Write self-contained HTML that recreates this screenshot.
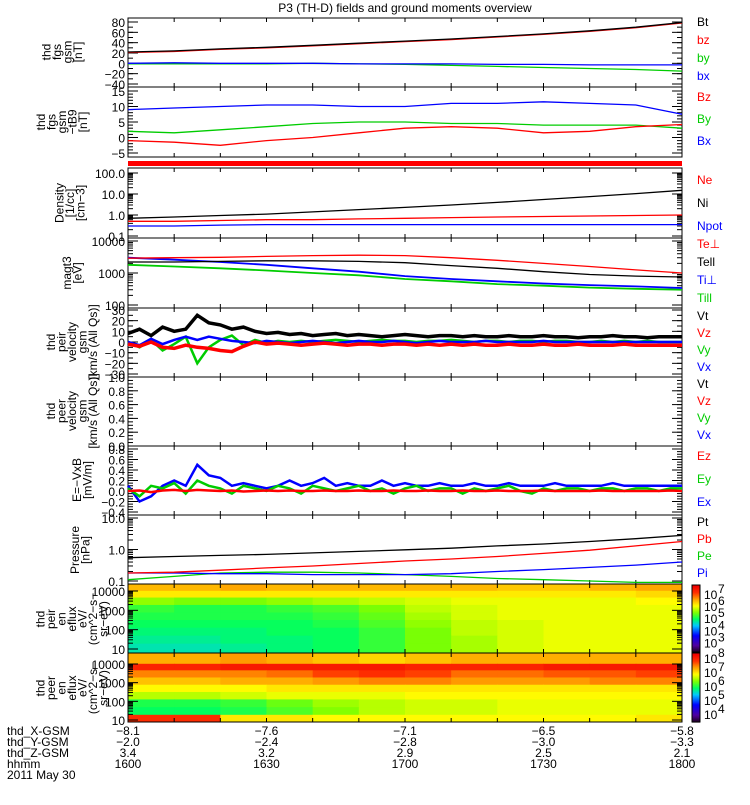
<!DOCTYPE html>
<html><head><meta charset="utf-8"><style>
body{margin:0;background:#fff}
svg{font-family:"Liberation Sans",sans-serif;}
text{font-size:12px}
</style></head><body>
<svg id="c" width="750" height="800" xmlns="http://www.w3.org/2000/svg"></svg>
<script>
// ---------- data ----------
const timeTicks=["1600","1630","1700","1730","1800"];
const xGsm=["-8.1","-7.6","-7.1","-6.5","-5.8"];
const yGsm=["-2.0","-2.4","-2.8","-3.0","-3.3"];
const zGsm=["3.4","3.2","2.9","2.5","2.1"];
const tCoarse=[0,10,20,30,40,50,60,70,80,90,100,110,120];
const bt=[22,24,28,31,35,39,43,47,52,57,63,70,79];
const bz=[21,23,27,30,34,38,42,46,51,56,62,69,78];
const by=[-1,-1,-1,-1,0,-1,-2,-4,-6,-8,-10,-12,-15];
const bx=[0,1,0,0,0,-1,-1,-1,-2,-2,-3,-3,-3];
const bzD=[-1,-1.5,-2.5,-1,0,1.5,3,3.5,3,1.5,2,3.5,4.2];
const byD=[2,1.5,2.5,3.5,4.5,5,5,4.5,4.5,4,4,4,3];
const bxD=[9,9.5,10,10.5,10.5,10,10,11,11,11.5,11,10.5,7.5];
const ne=[0.7,0.8,0.95,1.1,1.4,1.8,2.3,3.0,4.0,5.5,7.5,10.5,15];
const ni=[0.5,0.5,0.55,0.6,0.6,0.65,0.7,0.75,0.8,0.85,0.9,0.95,1.0];
const npot=[0.3,0.3,0.33,0.35,0.35,0.35,0.35,0.35,0.35,0.35,0.35,0.35,0.35];
const tePerp=[2900,3000,3100,3300,3500,3600,3500,3000,2500,2000,1600,1250,1000];
const tePar=[2200,2200,2300,2400,2400,2300,2100,1700,1400,1100,900,800,750];
const tiPerp=[3000,2600,2200,1800,1400,1100,800,650,550,470,420,380,340];
const tiPar=[1800,1600,1400,1200,1000,850,650,550,450,400,350,320,300];
const tFine=[];for(let i=0;i<=48;i++)tFine.push(i*2.5);
const vt=[8,12,6,14,10,12,25,18,16,12,14,10,8,9,7,8,6,7,8,6,7,6,5,6,7,6,5,6,6,5,6,5,5,6,5,5,6,5,5,4,5,5,6,5,5,4,5,5,5];
const vz=[-2,-4,0,-5,-6,-3,-5,-6,-8,-9,-4,0,-2,-1,-2,-3,-2,-1,-2,-3,-2,-2,-3,-2,-2,-3,-2,-3,-2,-3,-2,-3,-3,-2,-3,-3,-2,-3,-3,-2,-3,-3,-3,-2,-3,-3,-3,-3,-3];
const vy=[0,-5,2,-8,-2,5,-20,-5,2,6,-3,2,-1,1,0,1,0,1,2,1,0,1,2,1,1,0,1,1,2,1,0,1,1,0,1,1,0,1,1,0,0,1,0,1,0,1,0,0,0];
const vx=[0,-3,3,-2,2,5,2,5,3,1,0,-1,1,0,-1,0,1,0,-1,0,1,0,0,1,0,-1,0,1,0,0,0,1,0,0,0,0,1,0,0,0,0,0,0,0,0,0,0,0,0];
const ez=[0,0.01,-0.02,0.01,0.02,0,0.02,0.01,0,0.01,-0.01,0,0.01,0,0.01,0,0,0.01,0,0,0.01,0,0,0.01,0,0,0.01,0,0,0.01,0,0,0.01,0,0,0,0.01,0,0,0,0,0.01,0,0,0,0,0,0.01,0];
const ey=[0.05,-0.1,0.1,0.05,0.15,-0.05,0.2,0.1,0.05,-0.05,0.1,0.05,0,0.1,0.05,-0.05,0.1,0.05,0,0.05,0.1,0,0.05,-0.05,0.05,0.1,0,0.05,0.05,-0.05,0.05,0,0.05,0.1,0,-0.05,0.05,0,0.05,0.05,0,0.05,0.05,0,0.05,0.05,0,0.05,0.05];
const ex=[0.1,-0.2,-0.1,0.1,0.2,0.1,0.5,0.3,0.25,0.1,0.15,0.1,0.05,0.1,0.2,0.1,0.15,0.25,0.1,0.15,0.1,0.1,0.2,0.1,0.15,0.1,0.1,0.15,0.1,0.1,0.15,0.1,0.1,0.15,0.1,0.1,0.1,0.15,0.1,0.1,0.1,0.1,0.15,0.1,0.1,0.1,0.1,0.1,0.1];
const pt=[0.55,0.6,0.65,0.7,0.78,0.87,0.98,1.1,1.3,1.5,1.8,2.2,2.8];
const pb=[0.18,0.19,0.22,0.26,0.3,0.36,0.43,0.5,0.6,0.75,0.95,1.3,1.8];
const pe=[0.11,0.14,0.18,0.19,0.19,0.18,0.16,0.14,0.12,0.11,0.1,0.09,0.09];
const pi=[0.18,0.18,0.17,0.17,0.16,0.16,0.16,0.17,0.2,0.23,0.27,0.32,0.4];
const specT=[0,10,20,30,40,50,60,70,80,90,100,110];
const specE=[15000,7000,3000,1200,500,200,80,30,12];
const ionFlux=[
[6.5,6.5,6.6,6.5,6.5,6.5,6.5,6.5,6.4,6.4,6.5,6.6],
[6.2,6.2,6.2,6.2,6.2,6.2,6.2,6.2,6.2,6.2,6.2,6.3],
[5.6,5.5,5.5,5.6,5.7,5.8,5.9,6.0,6.0,6.0,6.0,6.1],
[5.2,5.1,5.1,5.2,5.3,5.5,5.8,5.9,6.0,6.0,6.0,6.0],
[5.1,5.1,5.1,5.1,5.2,5.4,5.7,5.9,6.0,6.0,6.0,6.0],
[5.0,5.0,5.0,5.0,5.1,5.3,5.6,5.8,5.9,6.0,6.0,6.0],
[4.9,4.9,4.9,5.0,5.0,5.2,5.5,5.8,5.9,6.0,6.0,6.0],
[4.8,4.8,4.9,4.9,5.0,5.2,5.5,5.7,5.9,6.0,6.0,6.0],
[4.7,4.7,4.8,4.9,5.0,5.2,5.5,5.7,5.9,6.0,6.0,6.0]];
const eleFlux=[
[7.3,7.3,7.4,7.3,7.2,7.1,7.2,7.3,7.3,7.3,7.3,7.3],
[8.0,8.0,8.1,8.1,8.1,8.1,8.0,8.0,8.0,8.1,8.1,8.1],
[7.5,7.5,7.5,7.6,7.8,7.9,7.8,7.6,7.6,7.7,7.7,7.8],
[7.2,7.2,7.3,7.3,7.4,7.5,7.5,7.4,7.4,7.4,7.5,7.5],
[6.9,6.9,6.9,7.0,7.0,7.0,7.0,7.0,7.0,7.0,7.0,7.0],
[6.6,6.6,6.7,6.8,6.8,6.8,6.9,6.9,6.9,6.9,6.9,6.9],
[6.0,6.0,6.1,6.3,6.5,6.6,6.7,6.7,6.8,6.8,6.8,6.8],
[5.9,5.9,6.0,6.2,6.4,6.6,6.7,6.7,6.8,6.8,6.8,6.8],
[7.9,7.9,7.0,7.0,6.9,6.9,6.9,6.9,6.9,6.9,6.9,7.0]];
// ---------- drawing ----------
const svg=document.getElementById('c');const NS='http://www.w3.org/2000/svg';
const X0=128,X1=682;
function xs(t){return X0+(X1-X0)*t/120;}
function el(tag,attrs,txt){const e=document.createElementNS(NS,tag);for(const k in attrs)e.setAttribute(k,attrs[k]);if(txt!==undefined)e.textContent=txt;svg.appendChild(e);return e;}
function linS(y0,y1,v0,v1){return v=>y0+(y1-y0)*(v-v0)/(v1-v0);}
function logS(y0,y1,v0,v1){return v=>y0+(y1-y0)*(Math.log10(v)-Math.log10(v0))/(Math.log10(v1)-Math.log10(v0));}
function series(ts,vals,ys,color,name,w){const d=vals.map((v,i)=>(i?'L':'M')+xs(ts[i]).toFixed(1)+' '+ys(v).toFixed(1)).join('');const p=el('path',{d:d,fill:'none',stroke:color,'stroke-width':w||1.3});}
function frame(top,bot,name){const r=el('rect',{x:X0,y:top,width:X1-X0,height:bot-top,fill:'none',stroke:'#000','stroke-width':1});
 for(let t=10;t<120;t+=10){el('line',{x1:xs(t),x2:xs(t),y1:top,y2:top+4,stroke:'#000'});el('line',{x1:xs(t),x2:xs(t),y1:bot,y2:bot-4,stroke:'#000'});}}
function ytick(y,lab,name){el('line',{x1:X0,x2:X0+10,y1:y,y2:y,stroke:'#000'});el('line',{x1:X1,x2:X1-10,y1:y,y2:y,stroke:'#000'});if(lab!==null){const t=el('text',{x:X0-3,y:y+5,'text-anchor':'end','font-size':13},lab);}}
function minor(y){el('line',{x1:X0,x2:X0+5,y1:y,y2:y,stroke:'#000'});el('line',{x1:X1,x2:X1-5,y1:y,y2:y,stroke:'#000'});}
function ylab(cx,cy,lines,name){const g=document.createElementNS(NS,'text');g.setAttribute('transform','translate('+cx+','+cy+') rotate(-90)');g.setAttribute('text-anchor','middle');g.setAttribute('font-size','12');
 lines.forEach((l,i)=>{const s=document.createElementNS(NS,'tspan');s.setAttribute('x',0);s.setAttribute('y',(i-(lines.length-1)/2)*10.5+4);s.textContent=l;g.appendChild(s);});
 svg.appendChild(g);}
function legend(items,y0,step,name){items.forEach((it,i)=>{const t=el('text',{x:697,y:y0+i*step,fill:it[1],'font-size':12},it[0]);});}
const title=el('text',{x:405,y:12,'text-anchor':'middle','font-size':13},'P3 (TH-D) fields and ground moments overview');


// Panel 1
let s=linS(22,84,80,-40);frame(18,87,'panel-fgm');
[80,60,40,20,0,-20,-40].forEach(v=>ytick(s(v),v==0?'0':String(v).replace('-','−'),'fgm-tick'));
for(let v=-40;v<=80;v+=10)minor(s(v));
series(tCoarse,by,s,'#0c0','by-line');series(tCoarse,bx,s,'#00f','bx-line');series(tCoarse,bz,s,'#f00','bz-line');series(tCoarse,bt,s,'#000','bt-line');
ylab(62,52,['thd','fgs','gsm','[nT]'],'fgm-y-title');
legend([['Bt','#000'],['bz','#f00'],['by','#0c0'],['bx','#00f']],26,18,'fgm-legend');
// Panel 2
s=linS(91,153,15,-5);frame(87,157,'panel-fgm-detrend');
[15,10,5,0,-5].forEach(v=>ytick(s(v),String(v).replace('-','−'),'dfgm-tick'));
for(let v=-5;v<=15;v++)minor(s(v));
series(tCoarse,bxD,s,'#00f','bx-detrend');series(tCoarse,byD,s,'#0c0','by-detrend');series(tCoarse,bzD,s,'#f00','bz-detrend');
ylab(62,122,['thd','fgs','gsm','−tB9','[nT]'],'dfgm-y-title');
legend([['Bz','#f00'],['By','#0c0'],['Bx','#00f']],101,22,'dfgm-legend');
el('rect',{x:X0,y:161,width:X1-X0,height:5,fill:'#f00'});
// Panel 3
s=logS(173,236,100,0.1);frame(168,238,'panel-density');
[[100,'100.0'],[10,'10.0'],[1,'1.0'],[0.1,'0.1']].forEach(a=>ytick(s(a[0]),a[1],'density-tick'));
for(let d=0.1;d<100;d*=10)for(let k=2;k<10;k++)minor(s(d*k));
series(tCoarse,npot,s,'#00f','npot-line');series(tCoarse,ni,s,'#f00','ni-line');series(tCoarse,ne,s,'#000','ne-line');
ylab(70,203,['Density','[1/cc]','[cm−3]'],'density-y-title');
legend([['Ne','#f00'],['Ni','#000'],['Npot','#00f']],184,23,'density-legend');
// Panel 4
s=logS(241,305,10000,100);frame(238,308,'panel-temperature');
[[10000,'10000'],[1000,'1000'],[100,'100']].forEach(a=>ytick(s(a[0]),a[1],'temp-tick'));
for(let d=100;d<10000;d*=10)for(let k=2;k<10;k++)minor(s(d*k));
series(tCoarse,tiPar,s,'#0c0','ti-par-line',1.8);series(tCoarse,tiPerp,s,'#00f','ti-perp-line',1.8);series(tCoarse,tePar,s,'#000','te-par-line');series(tCoarse,tePerp,s,'#f00','te-perp-line');
ylab(72,273,['magt3','[eV]'],'temp-y-title');
legend([['Te⊥','#f00'],['Tell','#000'],['Ti⊥','#00f'],['Till','#0c0']],248,18,'temp-legend');
// Panel 5
s=linS(310,374,30,-30);frame(308,377,'panel-ion-velocity');
[30,20,10,0,-10,-20,-30].forEach(v=>ytick(s(v),String(v).replace('-','−'),'vi-tick'));
for(let v=-30;v<=30;v+=5)minor(s(v));
series(tFine,vy,s,'#0c0','vy-line',2.5);series(tFine,vx,s,'#00f','vx-line',2.5);series(tFine,vt,s,'#000','vt-line',3.5);series(tFine,vz,s,'#f00','vz-line',3.5);
ylab(72,342,['thd','peir','velocity','gsm','[km/s (All Qs)]'],'vi-y-title');
legend([['Vt','#000'],['Vz','#f00'],['Vy','#0c0'],['Vx','#00f']],320,17,'vi-legend');
// Panel 6
s=linS(377,446,1,0);frame(377,446,'panel-electron-velocity');
[[1,'1.0'],[0.8,'0.8'],[0.6,'0.6'],[0.4,'0.4'],[0.2,'0.2'],[0,'0.0']].forEach(a=>ytick(s(a[0]),a[1],'ve-tick'));
for(let v=0;v<=1;v+=0.05)minor(s(v));
ylab(72,411,['thd','peer','velocity','gsm','[km/s (All Qs)]'],'ve-y-title');
legend([['Vt','#000'],['Vz','#f00'],['Vy','#0c0'],['Vx','#00f']],388,17,'ve-legend');
// Panel 7
s=linS(449,512,0.8,-0.4);frame(446,515,'panel-efield');
[0.8,0.6,0.4,0.2,0,-0.2,-0.4].forEach(v=>ytick(s(v),(v<0?'−':'')+Math.abs(v).toFixed(1),'ef-tick'));
for(let v=-0.4;v<=0.8;v+=0.05)minor(s(v));
series(tFine,ex,s,'#00f','ex-line',2.5);series(tFine,ey,s,'#0c0','ey-line',2.5);series(tFine,ez,s,'#f00','ez-line',2.5);
ylab(82,480,['E=−VxB','[mV/m]'],'ef-y-title');
legend([['Ez','#f00'],['Ey','#0c0'],['Ex','#00f']],460,23,'ef-legend');
// Panel 8
s=logS(518,581,10,0.1);frame(515,584,'panel-pressure');
[[10,'10.0'],[1,'1.0'],[0.1,'0.1']].forEach(a=>ytick(s(a[0]),a[1],'p-tick'));
for(let d=0.1;d<10;d*=10)for(let k=2;k<10;k++)minor(s(d*k));
series(tCoarse,pe,s,'#0c0','pe-line');series(tCoarse,pi,s,'#00f','pi-line');series(tCoarse,pb,s,'#f00','pb-line');series(tCoarse,pt,s,'#000','pt-line');
ylab(80,550,['Pressure','[nPa]'],'p-y-title');
legend([['Pt','#000'],['Pb','#f00'],['Pe','#0c0'],['Pi','#00f']],526,17,'p-legend');
// Spectrograms
const stops=[[0,[32,0,32]],[.1,[80,0,160]],[.25,[0,0,255]],[.4,[0,200,255]],[.5,[0,255,96]],[.6,[128,255,0]],[.7,[255,255,0]],[.8,[255,160,0]],[.9,[255,48,0]],[1,[240,0,0]]];
function cmap(f){f=Math.max(0,Math.min(1,f));for(let i=1;i<stops.length;i++){if(f<=stops[i][0]){const a=stops[i-1],b=stops[i],u=(f-a[0])/(b[0]-a[0]);return 'rgb('+a[1].map((c,j)=>Math.round(c+(b[1][j]-c)*u)).join(',')+')';}}return 'rgb(240,0,0)';}
function spec(top,bot,ys,flux,lo,hi,name){
 flux.forEach((row,r)=>{row.forEach((v,c)=>{
  const y0=r==0?top:(ys(specE[r-1])+ys(specE[r]))/2,y1=r==flux.length-1?bot:(ys(specE[r])+ys(specE[r+1]))/2;
  const x0=xs(specT[c]),x1=c==row.length-1?X1:xs(specT[c+1]);
  const cell=el('rect',{x:x0,y:y0,width:x1-x0+0.5,height:y1-y0+0.5,fill:cmap((v-lo)/(hi-lo))});
  });});
 frame(top,bot,name+'-frame');}
s=logS(591,649,10000,10);spec(584,653,s,ionFlux,2.2,7.75,'ion-spectrogram');
[[10000,'10000'],[1000,'1000'],[100,'100'],[10,'10']].forEach(a=>ytick(s(a[0]),a[1],'ion-e-tick'));
for(let d=10;d<10000;d*=10)for(let k=2;k<10;k++)minor(s(d*k));
ylab(72,619,['thd','peir','en','eflux','eV/','(cm^2−s−','sr−eV)'],'ion-spec-y-title');
s=logS(664,720,10000,10);spec(653,722,s,eleFlux,3.43,8.36,'electron-spectrogram');
[[10000,'10000'],[1000,'1000'],[100,'100'],[10,'10']].forEach(a=>ytick(s(a[0]),a[1],'ele-e-tick'));
for(let d=10;d<10000;d*=10)for(let k=2;k<10;k++)minor(s(d*k));
ylab(72,688,['thd','peer','en','eflux','eV/','(cm^2−s−','sr−eV)'],'ele-spec-y-title');
// colorbars
function cbar(top,bot,lo,hi,labs,name){const n=60;for(let i=0;i<n;i++){const r=el('rect',{x:692,y:bot-(i+1)*(bot-top)/n,width:8,height:(bot-top)/n+0.6,fill:cmap(i/(n-1))});}
 el('rect',{x:692,y:top,width:8,height:bot-top,fill:'none',stroke:'#000'});
 labs.forEach(p=>{const y=bot-(bot-top)*(p-lo)/(hi-lo);const t=el('text',{x:704,y:y+5,'font-size':12},'10');el('text',{x:718,y:y-1,'font-size':8},String(p));});}
cbar(585,652,2.2,7.75,[3,4,5,6,7],'ion-colorbar');
cbar(653,722,3.43,8.36,[4,5,6,7,8],'electron-colorbar');
// bottom annotations
const rowsL=[['thd_X-GSM',xGsm],['thd_Y-GSM',yGsm],['thd_Z-GSM',zGsm],['hhmm',timeTicks]];
rowsL.forEach((r,i)=>{const y=735+i*11;const t=el('text',{x:7,y:y,'font-size':12},r[0]);
 r[1].forEach((v,j)=>{const tt=el('text',{x:xs(j*30),y:y,'text-anchor':'middle','font-size':12},v.replace('-','−'));});});
const dt=el('text',{x:7,y:779,'font-size':12},'2011 May 30');
</script>
</body></html>
